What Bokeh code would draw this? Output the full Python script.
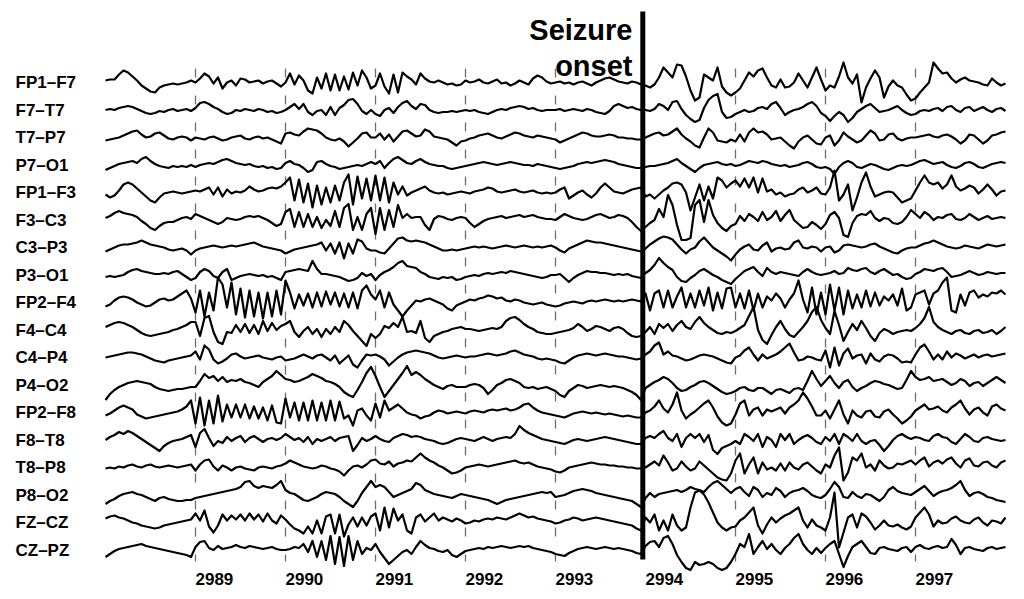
from bokeh.plotting import figure
from bokeh.models import ColumnDataSource, Range1d
from bokeh.core.properties import value
from bokeh.embed import file_html
from bokeh.resources import INLINE

# ---------------- data ----------------
channels = ["FP1–F7", "F7–T7", "T7–P7", "P7–O1", "FP1–F3", "F3–C3", "C3–P3", "P3–O1",
            "FP2–F4", "F4–C4", "C4–P4", "P4–O2", "FP2–F8", "F8–T8", "T8–P8", "P8–O2",
            "FZ–CZ", "CZ–PZ"]
tick_values = [2989, 2990, 2991, 2992, 2993, 2994, 2995, 2996, 2997]
tick_labels = ["2989", "2990", "2991", "2992", "2993", "2994", "2995", "2996", "2997"]
dashed_ticks = [2989, 2990, 2991, 2992, 2993, 2995, 2996, 2997]
seizure_onset = 2993.97
t_start = 2988.0
dt = 0.05  # seconds between samples; one inner list per second

fp1_f7 = [[2,3,3,8,12,10,6,2,-3,-6,-9,-10,-5,-3,-2,-1,-2,-1,0,2],
          [0,4,9,6,-1,5,-6,0,2,-3,4,3,0,1,2,-1,1,2,-1,-4],
          [0,9,-2,7,2,-8,-11,5,-6,9,-8,8,-8,6,-7,10,-3,12,5,-6],
          [-3,9,-4,-11,8,-10,10,6,3,-2,9,4,1,0,2,0,-2,-1,-3,-2],
          [2,0,1,3,0,-1,1,3,-1,0,-3,-1,2,0,-2,4,7,5,1,-1],
          [0,1,-1,0,-2,0,1,-1,-3,0,2,4,5,3,1,0,-1,1,0,-2],
          [-3,-5,-2,5,15,10,5,18,17,6,-8,-18,-15,8,5,2,15,-4,-10,-13],
          [-10,-6,2,10,6,12,14,5,-3,-5,3,-5,-4,0,9,2,-5,5,15,3],
          [-8,-3,-5,6,20,5,-1,8,-20,-5,4,12,5,-15,-4,2,-3,-5,-12,-18],
          [-16,-10,-5,0,20,14,9,10,4,0,3,5,2,1,0,-2,-3,4,0,-3,-1]]
f7_t7 = [[0,1,0,2,3,4,3,1,-1,-3,-4,-3,-1,-2,0,1,-1,0,1,-1],
         [2,7,8,6,3,1,-2,-4,-3,0,-1,1,0,-1,1,0,-2,-1,-3,-2],
         [0,3,6,1,6,-2,-5,-1,0,-5,3,-5,2,5,10,11,6,-1,-4,0],
         [-4,-6,0,2,-3,3,7,9,4,1,6,5,0,-2,-3,-2,-2,-1,-2,-1],
         [0,-1,0,-2,-3,-4,-2,0,1,0,2,3,4,3,1,2,0,-1,0,0],
         [0,1,-1,0,1,0,-1,1,0,-2,-3,-4,-1,4,6,4,2,3,1,0],
         [0,-1,1,6,4,0,8,9,1,-5,-9,-12,-10,2,10,14,16,-2,-8,-7],
         [-4,-2,0,-2,-1,2,3,1,6,8,2,-5,-2,0,1,3,6,8,4,-3],
         [-6,-11,-6,-2,-5,-12,-8,-2,1,4,6,2,-2,-1,0,2,4,0,-3,-5],
         [-4,-1,0,-1,1,2,-1,3,4,0,-2,2,3,-1,1,3,0,-2,1,2,-1]]
t7_p7 = [[-3,-2,-1,0,2,4,6,7,3,0,1,4,5,2,-1,-2,0,1,0,-3],
         [0,-1,-2,0,1,-1,-3,-2,0,1,2,-1,-2,0,1,-1,0,-2,-4,-6],
         [4,5,3,2,6,9,8,7,4,0,-2,-3,-1,-4,-9,-5,-1,4,5,0],
         [0,4,-2,3,-4,1,6,7,4,1,2,8,6,1,0,-1,-2,-5,-8,-4],
         [-3,-1,0,2,3,4,2,0,-1,1,3,5,4,2,1,0,2,1,0,-1],
         [-2,-5,-3,-1,1,3,5,4,2,1,1,2,3,2,0,0,-1,-1,-2,-2],
         [0,2,4,5,2,3,6,9,3,-1,-4,-8,-10,0,9,5,-3,-4,-5,-2],
         [-4,3,-4,5,9,5,6,3,-2,-1,0,-4,-8,-11,-4,0,2,-2,-6,-7],
         [0,2,-8,-3,5,1,-2,-5,-3,2,7,4,-3,-2,3,4,-1,-3,-1,0],
         [0,1,2,3,1,0,2,3,1,-2,-6,-3,3,2,-2,-6,-3,2,3,5,6]]
p7_o1 = [[-5,-3,-1,1,2,3,4,2,6,8,4,1,-1,-2,-3,-1,-2,-1,-2,0],
         [-2,0,1,2,1,3,5,6,4,2,1,0,1,-1,-2,-1,-3,-2,-4,-3],
         [2,4,1,0,-3,-7,-5,3,4,1,-1,-2,-4,-3,-2,-1,0,-1,1,3],
         [1,4,-3,2,6,8,5,2,1,4,6,3,1,0,-1,-1,-3,-4,-3,-2],
         [-1,0,1,2,3,2,1,0,1,2,3,2,1,0,0,-1,1,0,-1,-2],
         [-3,-4,-3,-2,-1,1,2,3,2,3,4,5,4,3,1,0,-1,-2,-3,-3],
         [-2,-1,-1,0,1,2,4,6,2,-1,-4,-7,-3,0,1,2,3,1,0,1],
         [-1,0,2,4,3,2,4,3,1,0,-1,0,-2,-1,0,2,3,1,-2,-3],
         [-2,-4,-9,-2,2,4,2,-2,-3,-1,1,0,-2,-4,-5,-3,-1,0,-1,0],
         [2,4,5,3,1,2,3,0,-2,-3,-1,2,3,1,-2,-3,-1,1,2,3,2]]
fp1_f3 = [[-2,-5,-3,2,8,10,8,4,0,-4,-8,-10,-5,-1,0,1,0,-1,0,1],
          [2,1,3,5,-2,5,-4,3,-1,1,0,2,6,3,1,2,4,5,4,6],
          [10,15,-8,13,-10,9,-15,7,-12,5,-10,7,-8,10,18,-12,16,-6,14,-8],
          [17,-8,15,-10,10,-2,6,-3,0,2,4,6,2,0,-1,0,-2,-1,0,1],
          [0,-1,1,2,3,5,4,1,0,1,2,3,1,0,1,2,0,-1,0,-1],
          [0,3,5,-6,-3,0,2,-2,-5,-1,5,9,5,1,0,-1,1,3,4,5],
          [-4,-2,-6,-2,2,5,9,10,8,0,-18,-5,8,-8,6,-6,15,12,5,9],
          [12,6,14,5,15,0,14,1,3,-2,0,-4,-2,-1,3,5,0,2,5,-1],
          [-2,5,22,-8,-2,8,-18,-5,10,20,6,-4,-2,0,1,0,-5,-10,-8,-6],
          [2,10,17,10,8,10,4,8,17,6,2,4,7,5,-1,3,8,3,-3,1,2]]
f3_c3 = [[2,4,7,9,7,6,5,3,-1,-4,-8,-10,-6,-3,-2,-2,0,2,3,1],
         [6,4,2,0,-2,-4,-2,2,1,0,1,3,4,3,4,2,0,-3,-6,-4],
         [8,11,-7,8,-7,6,-7,3,-8,0,-6,9,-7,12,16,-10,3,-10,6,12],
         [-14,12,-10,10,-7,15,2,6,2,3,3,-5,-10,1,4,3,1,0,2,3],
         [2,-3,-7,-4,-1,1,2,3,4,2,3,4,5,3,4,5,3,2,1,1],
         [0,3,6,4,2,1,0,1,3,5,6,4,2,3,5,4,2,-2,-7,-11],
         [-7,-3,0,11,3,25,15,-5,-20,-20,-18,15,20,-2,20,5,-3,-8,-11,-6],
         [-4,4,-1,6,3,-1,8,0,3,9,-1,5,10,0,-4,-8,-7,-2,-5,-9],
         [-4,5,8,2,-15,-17,-3,4,6,5,9,2,-1,2,1,-3,-4,-2,3,10],
         [6,2,8,5,0,3,2,5,6,1,0,2,6,3,0,2,4,1,2,3,2]]
c3_p3 = [[-4,-2,0,2,3,3,4,5,7,5,3,2,1,0,-2,-3,-2,-1,-3,-7],
         [-3,-1,0,1,2,1,0,1,2,1,2,3,4,5,3,1,0,-1,-2,-3],
         [-6,-4,-2,-1,0,1,2,3,5,-3,4,-6,5,-11,4,-6,8,6,-1,-3],
         [-3,-5,-6,-1,4,9,10,7,6,7,6,5,3,1,-1,-3,-3,-2,-3,-2],
         [-1,0,1,0,1,0,-1,0,1,2,1,0,1,2,1,0,1,0,1,2],
         [0,-3,-5,-1,1,3,5,7,6,5,5,4,3,2,1,0,-1,-2,-3,-4],
         [-1,3,6,9,11,10,8,3,-2,-6,-2,0,6,10,5,0,-3,-6,-9,-13],
         [-7,-2,1,3,-2,-3,2,5,-4,-1,0,-2,-1,5,7,0,-1,1,0,-4],
         [0,1,-5,-3,2,3,2,1,0,1,3,4,1,-1,-3,-5,-6,-3,-1,0],
         [0,2,4,5,7,5,3,1,0,-1,0,2,1,0,-1,1,3,2,1,2,3]]
p3_o1 = [[-2,-1,-2,-1,0,3,5,6,4,3,2,1,1,2,1,3,4,1,-2,-5],
         [-3,3,6,4,-1,-3,3,6,-5,-3,-1,0,1,0,-1,0,-2,-1,-3,-5],
         [3,4,5,6,5,4,14,6,1,1,0,-1,-2,-4,-6,-5,-3,2,-1,1],
         [-5,0,3,5,8,12,14,9,8,7,3,1,-2,-3,-4,-2,-3,-2,-5,-4],
         [-2,-1,0,-1,1,2,1,2,3,2,4,3,2,1,0,-1,-2,-3,-2,0],
         [0,1,-3,-7,-3,0,2,4,3,3,2,2,1,0,1,0,1,-1,-2,-3],
         [2,5,10,17,12,8,5,-2,-6,-7,-3,0,4,6,3,0,-2,-5,-7,-9],
         [-4,0,4,6,8,3,-1,7,3,1,3,2,1,0,-1,3,6,3,1,0],
         [1,2,4,1,2,7,5,4,6,7,3,1,4,6,3,0,1,-2,-4,-3],
         [1,3,6,5,4,6,7,3,-2,-1,0,2,4,2,0,1,3,2,1,2,2]]
fp2_f4 = [[-4,-2,2,5,6,5,3,0,-2,-4,-3,0,3,4,2,3,6,9,12,4],
          [-10,12,-14,10,-8,25,18,-5,20,-12,14,-15,12,-14,10,-16,10,-14,12,-12],
          [22,10,-6,8,-3,9,-5,10,-4,11,-2,10,-4,9,-5,10,-6,12,17,8],
          [3,12,-5,10,-2,-8,-14,-8,-3,2,1,3,4,2,0,-2,-6,-8,-3,-1],
          [1,3,2,4,5,7,6,4,5,2,1,3,2,0,-1,-2,-1,0,-2,-3],
          [-4,-3,-1,0,1,0,-1,1,2,1,2,3,2,1,2,1,2,3,2,1],
          [9,-8,9,12,-5,12,-5,6,15,-5,9,-5,12,-3,15,-8,10,-6,14,15],
          [-5,9,-6,12,-8,9,-5,6,2,9,4,-5,3,9,22,3,-10,15,-12,10],
          [-12,18,-8,15,-12,12,-6,8,-5,12,-4,10,-3,6,2,8,-3,14,-8,-5],
          [8,10,12,-2,9,12,20,25,-8,-10,8,-3,10,12,5,8,6,10,9,12,8]]
f4_c4 = [[3,5,7,8,7,5,3,0,-3,-5,-6,-5,-4,-3,-2,0,1,3,5,8],
         [8,-6,12,14,-2,-12,-14,-2,-3,5,-2,6,-3,5,-4,9,-1,7,0,4],
         [6,9,-2,-7,-1,3,-4,1,-7,1,-4,3,-2,9,5,-1,-6,-11,-16,-4],
         [-8,-4,4,2,7,3,13,-2,-1,-3,9,-8,-12,-6,-4,-2,-1,1,2,3],
         [1,1,0,-1,0,1,2,1,3,9,12,13,10,6,3,1,-2,-3,-4,-4],
         [-3,-2,-1,0,2,6,3,-1,1,4,3,1,-1,2,3,1,-3,-6,-7,-6],
         [-2,3,-4,6,2,6,-1,5,9,3,1,8,13,7,3,0,-3,-4,-2,-3],
         [-1,2,5,14,23,0,-10,-14,-5,3,9,1,-5,-7,-2,3,9,18,23,10],
         [2,-4,19,5,-11,-2,6,0,9,2,-6,-11,-3,1,-1,-4,-2,-1,0,-1],
         [2,6,12,23,8,3,0,-2,-4,-1,0,-3,-4,-1,0,-3,-2,0,-4,-1,3]]
c4_p4 = [[0,1,2,3,4,5,5,4,3,1,-1,-3,-4,-5,-3,-2,-1,0,1,2],
         [6,-2,12,8,-2,-6,-4,-1,3,4,1,-1,0,1,2,0,-1,-2,0,1],
         [-3,-2,-1,1,3,1,-1,2,3,0,-3,2,-6,-2,2,-7,-10,-3,3,2],
         [3,1,-2,-8,-4,0,3,5,6,7,6,5,4,2,0,-1,0,1,2,1],
         [0,1,1,2,3,4,3,2,3,4,6,7,5,3,2,1,-1,-2,-1,-2],
         [-3,-5,-6,-3,0,2,3,4,3,2,3,4,3,2,1,1,0,-1,-2,-1],
         [3,6,12,15,3,6,2,1,-1,-3,-2,0,2,3,2,1,-1,-3,-5,-6],
         [0,2,7,10,3,-3,3,-1,1,3,6,10,14,5,-3,-2,1,0,-2,-3],
         [7,-10,10,-8,4,9,-1,2,3,-6,4,-2,-4,1,3,2,-1,-5,-4,-5],
         [3,10,13,6,-2,3,-2,6,0,4,2,-1,1,3,0,2,3,1,2,3,4]]
p4_o2 = [[-15,-9,-5,-2,0,2,3,4,3,2,1,-2,-4,-5,-6,-5,-4,-4,-3,-2],
         [-2,4,11,7,9,4,8,3,5,4,6,3,2,0,-2,3,6,9,14,10],
         [6,5,3,4,6,8,11,9,7,4,3,1,-2,-7,-10,-12,-5,3,12,18],
         [9,-2,-12,-6,0,6,12,19,10,13,10,6,3,0,-2,-4,-1,0,-2,-2],
         [-2,0,1,0,-3,-9,-5,0,2,5,6,4,2,-2,-3,-2,-4,-3,-2,-4],
         [-6,-10,-12,-6,-3,0,-1,-3,-2,-1,0,-1,-2,-1,-2,-3,-5,-7,-10,-15],
         [-3,0,3,5,8,6,2,-3,-6,-5,-2,0,3,4,2,-1,-4,-7,-9,-8],
         [-6,-3,-2,-5,-6,-3,-3,-6,-9,-5,-4,-6,-8,-4,-3,-5,4,14,6,-1],
         [4,9,2,-3,3,5,-2,-6,-3,-1,2,4,3,1,0,-2,-4,-3,5,14],
         [8,5,6,8,4,5,6,3,0,2,6,4,-1,2,3,-1,2,5,8,5,2]]
fp2_f8 = [[-3,-1,2,5,7,5,3,-2,-4,-6,-5,-4,-3,-2,-1,0,1,3,6,12],
          [-11,15,-13,12,-11,17,-9,8,-5,8,-5,8,-6,6,-6,5,-8,7,-10,-11],
          [14,-5,10,-8,10,-8,12,-8,10,-8,12,-8,11,-6,-3,-13,2,4,-3,-8],
          [9,-5,12,2,5,8,4,0,-2,-3,-6,-4,-3,0,2,1,-1,0,1,0],
          [-1,1,2,1,0,2,3,2,3,4,2,3,5,8,9,5,2,0,-1,-2],
          [-3,-4,-5,-3,-1,0,1,0,-1,0,-1,-2,-1,-2,-3,-4,-3,-4,-5,-5],
          [0,2,6,12,4,0,8,20,2,-6,-2,1,5,9,12,5,-4,-10,-13,-11],
          [-2,9,12,-3,3,5,-3,3,1,3,5,-1,5,8,12,20,14,6,-3,-3],
          [2,-6,3,12,-2,-11,2,-3,-5,1,2,-4,-5,1,3,-2,-6,-11,-8,-4],
          [2,5,8,3,4,6,2,0,5,8,12,4,-2,3,5,0,-3,6,8,4,2]]
f8_t8 = [[0,3,5,8,6,9,7,4,1,-2,-5,-8,-11,-6,-3,-1,0,1,3,5],
         [-7,7,11,2,-6,-1,-3,3,-1,2,4,-2,2,4,1,-2,1,2,0,2],
         [6,3,0,2,-2,3,-4,1,-1,1,3,-1,2,3,4,-11,-5,2,-1,1],
         [4,1,-1,-2,2,4,6,5,3,4,3,1,0,-1,-3,-4,-3,-1,1,2],
         [1,0,-1,1,3,1,-1,1,2,3,2,6,14,10,7,5,3,1,0,-1],
         [-2,-3,-4,-2,0,1,0,-1,0,1,2,3,2,1,0,-1,-2,-3,-4,-4],
         [2,4,2,6,9,2,-1,6,-7,2,6,2,6,-2,5,-10,-14,-8,-6,-4],
         [-1,-4,6,3,-1,6,-7,3,0,-7,6,0,6,-4,0,3,5,2,-2,-4],
         [3,-1,6,-4,6,3,-1,6,-1,-4,-1,0,-5,-11,-6,0,4,6,3,1],
         [3,2,0,-1,4,6,3,2,-2,-4,1,6,3,-1,-2,2,3,1,0,-1,0]]
t8_p8 = [[-1,0,-1,1,0,2,3,1,0,2,3,1,0,1,2,1,0,1,2,3],
         [-3,3,7,8,1,-3,2,0,-3,0,1,-1,-2,-3,0,1,0,-1,1,2],
         [4,7,5,3,1,0,-1,0,2,1,-1,-2,-4,-8,-3,1,2,0,3,7],
         [8,4,3,6,1,4,5,7,6,10,14,10,7,5,2,0,-3,-6,-5,-3],
         [0,1,2,3,2,1,2,3,4,5,6,7,5,4,5,3,1,0,-1,-2],
         [-4,-5,-3,0,1,2,3,4,5,4,3,3,2,2,1,1,0,0,-1,-1],
         [0,3,6,2,12,5,-3,-1,6,1,-3,-1,6,2,-2,-6,-10,-12,-13,-6],
         [7,14,-6,3,10,-6,5,-2,0,-3,4,-3,5,0,-2,3,5,1,-3,-6],
         [3,0,12,20,-13,-5,10,7,14,0,3,-3,7,2,-1,0,4,3,5,7],
         [3,7,10,1,5,7,4,8,10,4,0,7,9,2,1,5,6,2,0,5,7]]
p8_o2 = [[-9,-6,-4,-1,1,2,3,1,0,-2,-4,-6,-3,-2,-4,-5,-6,-6,-5,-5],
         [-3,-2,-1,0,1,2,3,4,5,6,8,13,14,9,7,9,8,7,10,14],
         [5,2,1,-2,-5,-6,-4,-2,1,3,2,1,-2,-6,-9,-12,-6,2,8,14],
         [8,10,8,3,-2,0,2,4,6,12,10,5,3,1,0,-1,-2,-3,-1,1],
         [0,-1,-2,-3,-4,-5,-7,-9,-7,-5,-4,-3,-2,-1,0,1,2,3,2,3],
         [-2,-1,0,2,4,5,6,5,4,2,1,0,-1,-2,-3,-4,-5,-6,-9,-12],
         [-3,2,-2,1,2,3,4,5,3,5,8,6,5,3,8,12,14,10,6,2],
         [6,8,3,-1,8,5,-2,2,0,7,4,-2,2,4,5,7,4,0,-2,-3],
         [0,6,13,8,-2,-3,3,-1,-3,1,0,-3,-6,-2,5,8,4,2,1,0],
         [3,6,9,4,-1,2,4,5,7,10,14,5,-1,2,3,1,-2,-3,-5,-6,-7]]
fz_cz = [[4,6,7,5,4,2,0,-1,-3,-4,-5,-6,-5,-3,-2,-1,0,1,2,3],
         [9,2,12,-4,-10,-3,8,2,7,3,8,2,9,3,8,1,9,2,-1,7],
         [3,-2,-6,-8,-11,-4,-11,2,-11,6,8,-11,8,-14,-2,5,-4,5,-3,6],
         [9,-8,15,-5,14,2,8,-8,-11,5,8,1,5,9,2,5,3,1,4,2],
         [-1,0,2,1,3,4,3,5,4,3,5,7,9,7,5,6,4,3,2,1],
         [-1,0,2,3,5,4,2,3,4,5,4,3,2,1,0,-1,-2,-3,-6,-8],
         [5,0,8,-8,2,-8,8,-3,-8,-5,15,30,32,28,20,10,0,-5,-8,-5],
         [-4,2,5,10,15,-3,-11,-2,5,0,4,7,9,12,15,2,-5,3,-3,-5],
         [-8,5,30,-25,-10,5,8,-5,9,6,0,-7,-3,2,-3,-4,-2,-5,-7,-4],
         [5,10,15,8,-4,2,-1,0,4,6,2,0,-1,3,5,0,-3,2,1,-1,5]]
cz_pz = [[-7,-4,-1,1,2,3,4,5,6,4,3,2,1,0,-1,-2,-3,-4,-5,-7],
         [3,8,9,2,0,4,1,2,3,5,3,2,4,3,2,1,2,3,1,0],
         [0,1,3,2,6,-2,9,-7,9,-10,14,-14,13,-16,14,-10,9,-4,2,0],
         [6,-2,-8,-14,-10,-6,-2,0,-4,3,9,5,2,1,-1,-2,0,-5,-7,-4],
         [-1,0,1,2,1,3,2,3,4,3,2,3,4,3,4,2,1,0,-1,-2],
         [-4,-5,-6,-3,-1,1,2,3,2,1,2,3,2,1,2,1,0,-1,-3,-4],
         [4,8,9,3,12,14,6,-5,-12,-18,-20,-12,-15,-14,-12,-14,-18,-20,-18,-12],
         [-4,6,3,16,-4,3,9,1,6,0,-4,2,6,12,16,6,0,-4,2,-3],
         [2,6,9,-4,-17,-6,3,6,9,3,-3,-4,2,3,1,0,-1,2,3,-2],
         [3,5,2,1,3,4,2,3,11,5,-4,2,3,1,0,-1,2,3,1,2,3]]

signals = [fp1_f7, f7_t7, t7_p7, p7_o1, fp1_f3, f3_c3, c3_p3, p3_o1,
           fp2_f4, f4_c4, c4_p4, p4_o2, fp2_f8, f8_t8, t8_p8, p8_o2,
           fz_cz, cz_pz]

# ---------------- layout constants ----------------
W, H = 1016, 591
px_per_s = 90.0
x0 = 2989 - 195 / px_per_s
x1 = x0 + W / px_per_s
top_center = 509.0
spacing = 27.5

p = figure(width=W, height=H, output_backend="svg", toolbar_location=None,
           x_range=Range1d(x0, x1), y_range=Range1d(0, H),
           x_axis_location=None, y_axis_location=None,
           min_border=0, outline_line_color=None,
           background_fill_color="white", border_fill_color="white")
p.xgrid.visible = False
p.ygrid.visible = False

# dashed second markers
p.segment(x0=dashed_ticks, x1=dashed_ticks, y0=[523] * len(dashed_ticks), y1=[30] * len(dashed_ticks),
          line_color="#6e6e6e", line_width=1.3, line_dash="9 18")

# traces
for i, segs in enumerate(signals):
    center = top_center - spacing * i
    xs, ys = [], []
    for s, seg in enumerate(segs):
        for k, v in enumerate(seg):
            xs.append(t_start + s + k * dt)
            ys.append(center + v)
    p.line(xs, ys, line_color="black", line_width=2.2, line_join="round")

# seizure onset line
p.segment(x0=[seizure_onset], x1=[seizure_onset], y0=[580], y1=[32],
          line_color="black", line_width=5)

# channel labels
lab_src = ColumnDataSource(dict(x=[x0 + 15 / px_per_s] * len(channels),
                                y=[top_center - spacing * i for i in range(len(channels))],
                                text=channels))
p.text(x="x", y="y", text="text", source=lab_src, text_font=value("Liberation Sans"),
       text_font_style="bold", text_font_size="17px", text_align="left",
       text_baseline="middle", text_color="black")

# time tick labels (left-aligned at the tick)
tick_src = ColumnDataSource(dict(x=tick_values, y=[13] * len(tick_values), text=tick_labels))
p.text(x="x", y="y", text="text", source=tick_src, text_font=value("Liberation Sans"),
       text_font_style="bold", text_font_size="17px", text_align="left",
       text_baseline="middle", text_color="black")

# seizure onset annotation
ann_x = x0 + 632 / px_per_s
ann_src = ColumnDataSource(dict(x=[ann_x, ann_x], y=[562, 526], text=["Seizure", "onset"]))
p.text(x="x", y="y", text="text", source=ann_src, text_font=value("Liberation Sans"),
       text_font_style="bold", text_font_size="29px", text_align="right",
       text_baseline="alphabetic", text_color="black")

open("out.html", "w").write(file_html(p, INLINE))
